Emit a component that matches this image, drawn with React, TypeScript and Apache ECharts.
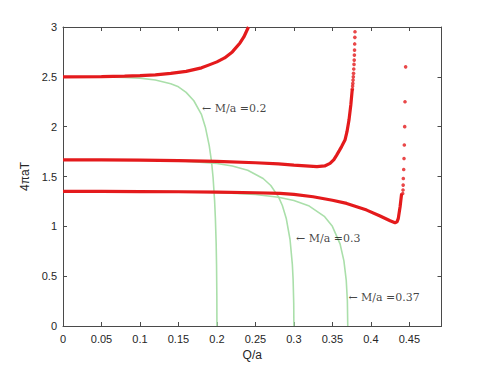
import React, { useEffect, useRef } from "react";
import * as echarts from "echarts";

const xTicks = { min: 0, max: 0.4918, interval: 0.05 };
const yTicks = { min: 0, max: 3, interval: 0.5 };

// Red curves (solid, dense part)
const red02: [number, number][] = [
  [0, 2.5], [0.05, 2.502], [0.08, 2.507], [0.1, 2.512], [0.12, 2.52], [0.14, 2.535],
  [0.16, 2.555], [0.18, 2.59], [0.19, 2.62], [0.2, 2.65], [0.21, 2.69], [0.22, 2.75],
  [0.23, 2.84], [0.235, 2.9], [0.241, 3.0],
];
const red03: [number, number][] = [
  [0, 1.667], [0.05, 1.666], [0.1, 1.664], [0.15, 1.66], [0.2, 1.652], [0.25, 1.638],
  [0.28, 1.626], [0.3, 1.615], [0.32, 1.605], [0.33, 1.6], [0.34, 1.606], [0.347, 1.632],
  [0.352, 1.67], [0.3556, 1.715], [0.359, 1.76], [0.362, 1.8], [0.3664, 1.866],
  [0.369, 1.95], [0.3716, 2.066], [0.374, 2.22], [0.3759, 2.38],
];
const red037: [number, number][] = [
  [0, 1.351], [0.05, 1.35], [0.1, 1.349], [0.15, 1.347], [0.2, 1.343], [0.25, 1.337],
  [0.282, 1.331], [0.3, 1.32], [0.325, 1.297], [0.35, 1.262], [0.3686, 1.23],
  [0.3946, 1.163], [0.412, 1.103], [0.425, 1.056], [0.4314, 1.036], [0.434, 1.045],
  [0.4357, 1.08], [0.438, 1.197], [0.44, 1.33],
];
// Red curves (sparse dotted tops)
const red03Dots: [number, number][] = [
  [0.376, 2.377], [0.3763, 2.407], [0.3766, 2.434], [0.3769, 2.467], [0.3772, 2.5],
  [0.3775, 2.535], [0.3778, 2.578], [0.3781, 2.625], [0.3784, 2.668], [0.3786, 2.718],
  [0.3788, 2.768], [0.379, 2.83], [0.3792, 2.896], [0.3794, 2.952],
];
const red037Dots: [number, number][] = [
  [0.4414, 1.33], [0.4418, 1.364], [0.442, 1.414], [0.4422, 1.48],
  [0.4427, 1.57], [0.4431, 1.68], [0.4435, 1.816], [0.444, 2.0], [0.4444, 2.25], [0.4452, 2.6],
];
// Green curves
const green02: [number, number][] = [
  [0, 2.5], [0.05, 2.499], [0.08, 2.493], [0.1, 2.487], [0.12, 2.469], [0.14, 2.43],
  [0.15, 2.4], [0.16, 2.344], [0.17, 2.26], [0.18, 2.12], [0.185, 1.995], [0.19, 1.81],
  [0.193, 1.65], [0.195, 1.49], [0.197, 1.255], [0.198, 1.08], [0.199, 0.83],
  [0.1995, 0.62], [0.1999, 0.3], [0.2, 0],
];
const green03: [number, number][] = [
  [0, 1.667], [0.1, 1.665], [0.15, 1.658], [0.2, 1.631], [0.22, 1.606], [0.24, 1.5625],
  [0.26, 1.48], [0.27, 1.41], [0.28, 1.296], [0.285, 1.209], [0.29, 1.082], [0.295, 0.868],
  [0.298, 0.618], [0.299, 0.465], [0.2998, 0.227], [0.3, 0],
];
const green037: [number, number][] = [
  [0, 1.351], [0.1, 1.351], [0.15, 1.349], [0.2, 1.341], [0.25, 1.32], [0.28, 1.292],
  [0.3, 1.259], [0.32, 1.203], [0.34, 1.097], [0.35, 1.0], [0.36, 0.824], [0.365, 0.654],
  [0.368, 0.461], [0.3695, 0.254], [0.37, 0],
];
const annotations: { text: string; at: [number, number] }[] = [
  { text: "\u2190 M/a =0.2", at: [0.1806, 2.187] },
  { text: "\u2190 M/a =0.3", at: [0.3028, 0.873] },
  { text: "\u2190 M/a =0.37", at: [0.3708, 0.288] },
];

const RED = "#e41a1c";
const GREEN = "#aadfaa";
const AXIS = "#4a4a4a";
const TXT = "#262626";

export default function App() {
  const ref = useRef<HTMLDivElement>(null);
  useEffect(() => {
    if (!ref.current) return;
    const chart = echarts.init(ref.current, undefined, { renderer: "svg" });
    const axisCommon = {
      axisLine: { show: true, onZero: false, lineStyle: { color: AXIS, width: 1 } },
      axisTick: { show: true, inside: true, length: 4, lineStyle: { color: AXIS } },
      splitLine: { show: false },
    };
    const lineSeries = (data: [number, number][], color: string, width: number) => ({
      type: "line",
      data,
      symbol: "none",
      smooth: false,
      lineStyle: { color, width },
      z: color === RED ? 3 : 2,
    });
    const dotSeries = (data: [number, number][]) => ({
      type: "scatter",
      data,
      symbol: "circle",
      symbolSize: 3.6,
      itemStyle: { color: RED },
      z: 3,
    });
    chart.setOption({
      animation: false,
      grid: { left: 63, top: 27, right: 46.5, bottom: 40 },
      xAxis: [
        {
          type: "value", position: "bottom", ...xTicks, ...axisCommon,
          name: "Q/a", nameLocation: "middle", nameGap: 23,
          nameTextStyle: { color: TXT, fontSize: 12, fontFamily: "Liberation Sans" },
          axisLabel: { color: TXT, fontSize: 11, fontFamily: "Liberation Sans", margin: 7, showMaxLabel: false },
        },
        {
          type: "value", position: "top", ...xTicks, ...axisCommon,
          axisLabel: { show: false },
        },
      ],
      yAxis: [
        {
          type: "value", position: "left", ...yTicks, ...axisCommon,
          name: "4\u03c0aT", nameLocation: "middle", nameGap: 25,
          nameTextStyle: { color: TXT, fontSize: 12, fontFamily: "Liberation Sans" },
          axisLabel: { color: TXT, fontSize: 11, fontFamily: "Liberation Sans", margin: 6 },
        },
        {
          type: "value", position: "right", ...yTicks, ...axisCommon,
          axisLabel: { show: false },
        },
      ],
      series: [
        lineSeries(green02, GREEN, 1.6),
        lineSeries(green03, GREEN, 1.6),
        lineSeries(green037, GREEN, 1.6),
        lineSeries(red02, RED, 3.2),
        lineSeries(red03, RED, 3.2),
        lineSeries(red037, RED, 3.2),
        dotSeries(red03Dots),
        dotSeries(red037Dots),
        {
          type: "scatter",
          data: annotations.map((a) => ({ value: a.at, name: a.text })),
          symbolSize: 0,
          z: 5,
          label: {
            show: true,
            position: "right",
            distance: 0,
            formatter: (p: any) => p.name,
            color: "#111",
            fontSize: 11,
            fontFamily: "DejaVu Serif",
          },
        },
      ],
    });
    return () => chart.dispose();
  }, []);
  return (
    <div
      ref={ref}
      style={{ position: "fixed", left: 0, top: 0, width: 488, height: 366, background: "#fff" }}
    />
  );
}
